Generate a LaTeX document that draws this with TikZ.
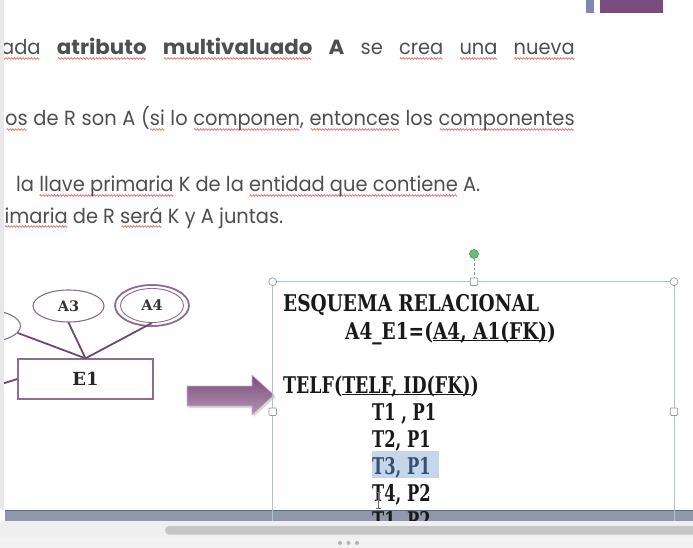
\documentclass[tikz,border=0pt]{standalone}
\usepackage{fontspec}
\usepackage{graphicx}
\usetikzlibrary{shapes.geometric}
\newfontfamily\bodyfont{Poppins}
\newfontfamily\slabfont{DejaVu Serif}
\definecolor{textc}{HTML}{4F4F4F}
\definecolor{wavered}{HTML}{E0605A}
\definecolor{entc}{HTML}{8D6E8D}
\definecolor{linec}{HTML}{6F4A70}
\definecolor{arrtop}{HTML}{7A4E7B}
\definecolor{arrbot}{HTML}{B394B3}
\definecolor{framec}{HTML}{A8C4E4}
\definecolor{handlec}{HTML}{9A9A9A}
\definecolor{greenc}{HTML}{6FBF73}
\definecolor{greend}{HTML}{4E9A52}
\definecolor{hlc}{HTML}{C5D6EA}
\definecolor{hltext}{HTML}{34506E}
\definecolor{bandc}{HTML}{8F99A9}
\definecolor{chromec}{HTML}{EFEFEF}
\definecolor{scrollc}{HTML}{C6C6C6}
\definecolor{purp}{HTML}{7B4B7D}
\definecolor{blueg}{HTML}{8187B2}
\definecolor{stripc}{HTML}{E8E8E8}
\newsavebox\wavebox
\newsavebox\wordbox
\newsavebox\measbox
\newcommand\rw[1]{\sbox\wordbox{#1}\rlap{\lower4pt\hbox to\wd\wordbox{\cleaders\copy\wavebox\hfil}}\usebox\wordbox}
\newcommand\bw[1]{\scalebox{1.1}[1]{\textbf{#1}}}
\newcommand\ulin[1]{\sbox\wordbox{#1}\rlap{\rule[-1.9pt]{\wd\wordbox}{1.3pt}}\usebox\wordbox}
\newcommand\bodysize{\bodyfont\fontsize{20.5}{24}\selectfont}
\newcommand\slabsize{\slabfont\bfseries\fontsize{23}{27}\selectfont}
\begin{document}
\sbox\wavebox{\begin{pgfpicture}%
\pgfpathrectangle{\pgfpoint{0pt}{-0.5pt}}{\pgfpoint{3pt}{1pt}}\pgfusepath{use as bounding box}%
\pgfsetlinewidth{0.65pt}\pgfsetstrokecolor{wavered}%
\pgfpathmoveto{\pgfpoint{0pt}{0pt}}%
\pgfpathsine{\pgfpoint{0.75pt}{0.8pt}}%
\pgfpathcosine{\pgfpoint{0.75pt}{-0.8pt}}%
\pgfpathsine{\pgfpoint{0.75pt}{-0.8pt}}%
\pgfpathcosine{\pgfpoint{0.75pt}{0.8pt}}%
\pgfusepath{stroke}%
\end{pgfpicture}}%
\sbox\measbox{\bodysize la llave primaria K de la entidad que contiene A.}%
\pgfmathsetmacro\hs{464/\the\wd\measbox}%
\sbox\measbox{\slabsize ESQUEMA RELACIONAL}%
\pgfmathsetmacro\hb{256/\the\wd\measbox}%
\pgfmathsetmacro\hbt{\hb*0.94}%
\pgfmathsetmacro\hbr{\hb*0.88}%
\pgfmathsetmacro\wA{573.5/\hs}%
\pgfmathsetmacro\wB{569.5/\hs}%
\begin{tikzpicture}[x=1pt,y=-1pt,
  body/.style={anchor=base west, inner sep=0pt, text=textc, font=\bodysize},
  boxtxt/.style={anchor=base west, inner sep=0pt, text=black!90, font=\slabsize},
  ent/.style={draw=entc, line width=1.3pt, fill=white, minimum width=135pt, minimum height=40pt, inner sep=0pt, font=\slabfont\bfseries\fontsize{18}{20}\selectfont, text=black!85},
  attr/.style={ellipse, draw=entc, line width=1.1pt, fill=white, minimum width=71pt, minimum height=32pt, inner sep=0pt, font=\slabfont\bfseries\fontsize{14.5}{17}\selectfont, text=black!80},
  conn/.style={draw=linec, line width=1.8pt},
  handle/.style={draw=handlec, fill=white, line width=0.7pt, inner sep=0pt, minimum size=7.5pt},
]
\useasboundingbox (0,0) rectangle (693,548);
\fill[white] (0,0) rectangle (693,548);
% top right bars
\fill[blueg] (586,0) rectangle (594,12.7);
\fill[purp] (600,0) rectangle (663,12.7);
% body text
\node[body] (l1) at (1,55) {\scalebox{\hs}[1]{\makebox[\wA pt][s]{\rw{ada} \bw{\rw{atributo}} \bw{\rw{multivaluado}} \bw{A} se \rw{crea} \rw{una} \rw{nueva}}}};
\node[body] (l2) at (5,126) {\scalebox{\hs}[1]{\makebox[\wB pt][s]{\rw{os} de R son A (\rw{si} lo \rw{componen}, \rw{entonces} los \rw{componentes}}}};
\node[body] (l3) at (16,192) {\scalebox{\hs}[1]{la \rw{llave primaria} K de la \rw{entidad que contiene} A.}};
\node[body] (l4) at (4.4,223) {\scalebox{\hs}[1]{\rw{imaria} de R \rw{será} K y A juntas.}};
% ER diagram
\node[attr] (a1) at (-15,326) {};
\node[attr] (a3) at (68.5,306) {A3};
\node[attr, minimum width=74pt, minimum height=41pt, line width=1.8pt] (a4) at (152,305.5) {};
\node[attr, minimum width=63pt, minimum height=34pt, line width=0.9pt] (a4i) at (152,305.5) {A4};
\node[ent] (e1) at (85.5,379) {E1};
\coordinate (lft) at (0,384.5);
\draw[conn] (a1.-12) -- (e1.north);
\draw[conn] (a3.south) -- (e1.north);
\draw[conn] (a4i.south) -- (e1.north);
\draw[conn] (lft) -- (e1.west);
% arrow
\fill[black, opacity=0.15] (188.5,388) -- (253.5,388) -- (253.5,377) -- (275.5,397) -- (253.5,417) -- (253.5,408) -- (188.5,408) -- cycle;
\shade[top color=arrtop, bottom color=arrbot, draw=arrbot!70!white, line width=0.6pt] (187,386) -- (252,386) -- (252,375) -- (274,395) -- (252,415) -- (252,406) -- (187,406) -- cycle;
% bottom chrome
\fill[bandc] (5,510) rectangle (693,520.5);
\draw[bandc!70!black, line width=0.6pt] (5,510.3) -- (693,510.3);
\fill[chromec] (0,520.5) rectangle (693,548);
\fill[scrollc, rounded corners=4pt] (165,526) rectangle (700,534.5);
\draw[black!22, line width=0.7pt] (0,538) -- (693,538);
\fill[black!5] (0,538.4) rectangle (693,548);
\foreach \dx in {340,348.5,357} \fill[black!30] (\dx,543) circle (2pt);
% text box (clipped by window bar)
\begin{scope}
\clip (150,240) rectangle (693,520.5);
\draw[framec, line width=0.7pt] (272.7,281.7) rectangle (674,541.7);
\fill[hlc] (372,451) rectangle (439,478);
\node[boxtxt] (t0) at (283,311.5) {\scalebox{\hb}[1]{ESQUEMA RELACIONAL}};
\node[boxtxt] (t1) at (345,339) {\scalebox{\hb}[1]{A4\_E1=(\ulin{A4, A1(FK)})}};
\node[boxtxt] (t2) at (283,393) {\scalebox{\hbt}[1]{TELF(\ulin{TELF, ID(FK)})}};
\node[boxtxt] (t3) at (372,420) {\scalebox{\hbr}[1]{T1 , P1}};
\node[boxtxt] (t4) at (372,447) {\scalebox{\hbr}[1]{T2, P1}};
\node[boxtxt, text=hltext] (t5) at (372,474) {\scalebox{\hbr}[1]{T3, P1}};
\node[boxtxt] (t6) at (372,501) {\scalebox{\hbr}[1]{T4, P2}};
\node[boxtxt] (t7) at (372,528) {\scalebox{\hbr}[1]{T1, P2}};
\end{scope}
% I-beam cursor
\draw[black!55, line width=0.9pt] (378,492.5) -- (378,507.5);
\draw[black!55, line width=0.8pt] (375.5,492) -- (380.5,492) (375.5,508) -- (380.5,508) (376,500) -- (380,500);
% selection handles
\node[circle, fill=greenc, draw=greend, line width=0.6pt, minimum size=9pt, inner sep=0pt] (rot) at (474,254) {};
\node[handle, rounded corners=1pt] (htop) at (474,281.7) {};
\draw[framec!80!black, dash pattern=on 2.5pt off 2pt, line width=0.8pt] (rot) -- (htop);
\node[handle, circle, minimum size=8pt] (hnw) at (272.7,281.7) {};
\node[handle, circle, minimum size=8pt] (hne) at (674,281.7) {};
\node[handle, rounded corners=1pt] (hw) at (272.7,411.7) {};
\node[handle, rounded corners=1pt] (he) at (674,411.7) {};
% left strip
\fill[stripc] (0,0) rectangle (4,510);
\end{tikzpicture}
\end{document}
